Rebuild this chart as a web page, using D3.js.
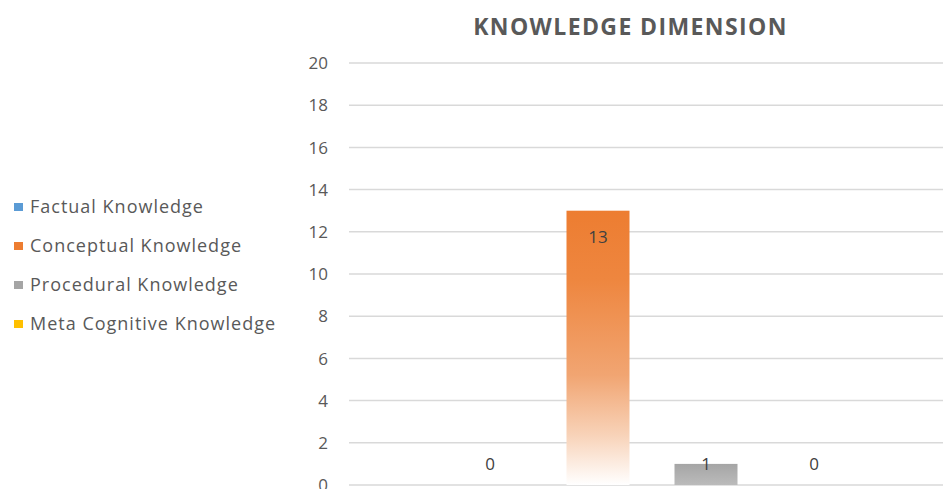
<!DOCTYPE html>
<html><head><meta charset="utf-8">
<script src="https://cdn.jsdelivr.net/npm/d3@7"></script>
<style>body{margin:0;background:#fff;} svg{display:block;}</style>
</head><body>
<script>
const title = "KNOWLEDGE DIMENSION";
const seriesNames = ["Factual Knowledge","Conceptual Knowledge","Procedural Knowledge","Meta Cognitive Knowledge"];
const seriesValues = [0, 13, 1, 0];
const seriesColors = ["#5B9BD5","#ED7D31","#A5A5A5","#FFC000"];
const yTicks = [0,2,4,6,8,10,12,14,16,18,20];

const W = 943, H = 489;
const font = "'Open Sans', sans-serif";
const txt = "#595959";
const svg = d3.select("body").append("svg").attr("width", W).attr("height", H);

const y = d3.scaleLinear().domain([0,20]).range([485,63]);
const x = d3.scaleBand().domain(seriesNames).range([436,868]).paddingInner(0.4167).paddingOuter(0.2083);

const defs = svg.append("defs");
const g0 = defs.append("linearGradient").attr("id","gOrange").attr("x1",0).attr("y1",0).attr("x2",0).attr("y2",1);
[[0,"#ED7D31"],[0.25,"#EE863F"],[0.6,"#F1A572"],[0.82,"#F8D3B9"],[1,"#FFFFFF"]].forEach(s=>g0.append("stop").attr("offset",s[0]).attr("stop-color",s[1]));
const g1 = defs.append("linearGradient").attr("id","gGray").attr("x1",0).attr("y1",0).attr("x2",0).attr("y2",1);
[[0,"#A5A5A5"],[1,"#BBBBBB"]].forEach(s=>g1.append("stop").attr("offset",s[0]).attr("stop-color",s[1]));
const fills = ["#5B9BD5","url(#gOrange)","url(#gGray)","#FFC000"];

// gridlines
svg.append("g").selectAll("line").data(yTicks).join("line")
  .attr("x1",349).attr("x2",W).attr("y1",d=>y(d)).attr("y2",d=>y(d))
  .attr("stroke","#D9D9D9").attr("stroke-width",1.5);

// y tick labels
svg.append("g").selectAll("text").data(yTicks).join("text")
  .attr("x",328).attr("y",d=>y(d)).attr("dy","0.36em").attr("text-anchor","end")
  .attr("font-family",font).attr("font-size",17).attr("fill",txt).text(d=>d);

// bars
svg.append("g").selectAll("rect").data(seriesValues).join("rect")
  .attr("x",(d,i)=>x(seriesNames[i])).attr("width",x.bandwidth())
  .attr("y",d=>y(d)).attr("height",d=>y(0)-y(d))
  .attr("fill",(d,i)=>fills[i]);

// data labels
svg.append("g").selectAll("text").data(seriesValues).join("text")
  .attr("x",(d,i)=>x(seriesNames[i])+x.bandwidth()/2)
  .attr("y",d=> (y(0)-y(d) > 40) ? y(d)+26 : y(0)-21)
  .attr("dy","0.36em").attr("text-anchor","middle")
  .attr("font-family",font).attr("font-size",17).attr("fill","#404040").text(d=>d);

// title
svg.append("text").attr("x",630.5).attr("y",27).attr("dy","0.36em").attr("text-anchor","middle")
  .attr("font-family",font).attr("font-weight","bold").attr("font-size",23).attr("fill",txt)
  .attr("letter-spacing",1.4).text(title);

// legend
const lg = svg.append("g").selectAll("g").data(seriesNames).join("g")
  .attr("transform",(d,i)=>`translate(0,${207 + i*39})`);
lg.append("rect").attr("x",14).attr("y",-4).attr("width",9).attr("height",8).attr("fill",(d,i)=>seriesColors[i]);
lg.append("text").attr("x",30).attr("y",0).attr("dy","0.36em")
  .attr("font-family",font).attr("font-size",18).attr("letter-spacing",1).attr("fill",txt).text(d=>d);
</script>
</body></html>
